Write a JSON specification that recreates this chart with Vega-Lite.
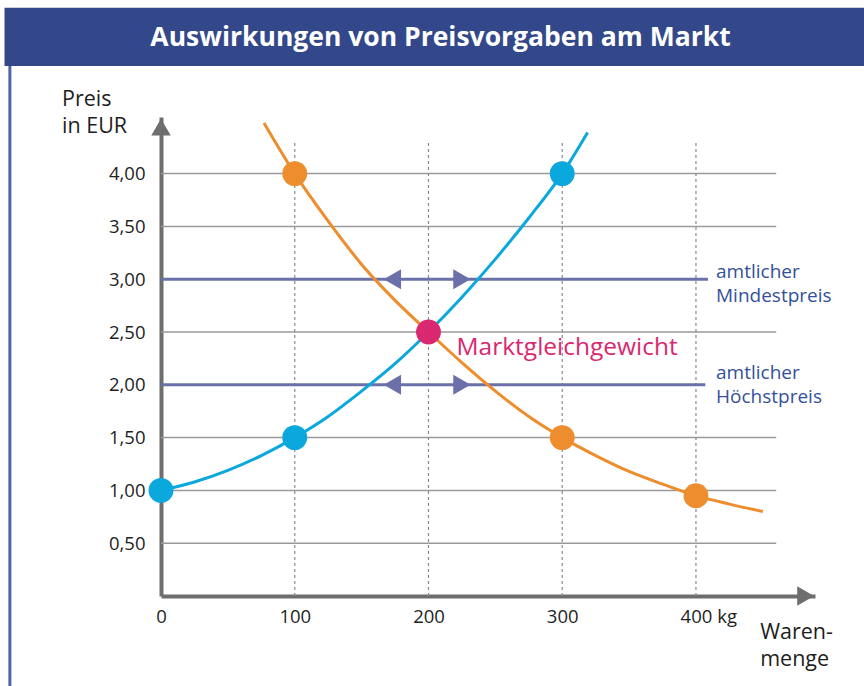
{
  "$schema": "https://vega.github.io/schema/vega-lite/v6.json",
  "autosize": {"type": "none"},
  "width": 654,
  "height": 479,
  "padding": {"left": 161, "top": 117, "right": 49, "bottom": 90},
  "background": "white",
  "config": {
    "view": {"stroke": null},
    "font": "Open Sans",
    "text": {"font": "Open Sans", "lineBreak": "\n"}
  },
  "data": {"values": [{"anker": 1}]},
  "datasets": {
    "supply": [
      {"q": 0, "p": 1.00}, {"q": 25, "p": 1.08}, {"q": 50, "p": 1.19}, {"q": 75, "p": 1.33},
      {"q": 100, "p": 1.50}, {"q": 125, "p": 1.70}, {"q": 150, "p": 1.94}, {"q": 175, "p": 2.20},
      {"q": 200, "p": 2.50}, {"q": 225, "p": 2.83}, {"q": 250, "p": 3.19}, {"q": 275, "p": 3.58},
      {"q": 300, "p": 4.00}, {"q": 319, "p": 4.39}
    ],
    "demand": [
      {"q": 77, "p": 4.48}, {"q": 100, "p": 4.00}, {"q": 125, "p": 3.55}, {"q": 150, "p": 3.14},
      {"q": 175, "p": 2.80}, {"q": 200, "p": 2.50}, {"q": 225, "p": 2.21}, {"q": 250, "p": 1.94},
      {"q": 275, "p": 1.70}, {"q": 300, "p": 1.50}, {"q": 325, "p": 1.33}, {"q": 350, "p": 1.18},
      {"q": 375, "p": 1.06}, {"q": 400, "p": 0.95}, {"q": 425, "p": 0.87}, {"q": 450, "p": 0.80}
    ],
    "points": [
      {"q": 100, "p": 4.00, "kurve": "Nachfrage"},
      {"q": 300, "p": 1.50, "kurve": "Nachfrage"},
      {"q": 400, "p": 0.95, "kurve": "Nachfrage"},
      {"q": 0, "p": 1.00, "kurve": "Angebot"},
      {"q": 100, "p": 1.50, "kurve": "Angebot"},
      {"q": 300, "p": 4.00, "kurve": "Angebot"},
      {"q": 200, "p": 2.50, "kurve": "Gleichgewicht"}
    ],
    "hgrid": [
      {"p": 0.5}, {"p": 1.0}, {"p": 1.5}, {"p": 2.5}, {"p": 3.5}, {"p": 4.0}
    ],
    "vgrid": [
      {"q": 100}, {"q": 200}, {"q": 300}, {"q": 400}
    ],
    "limits": [
      {"p": 3.0, "q_end": 409, "name": "Mindestpreis"},
      {"p": 2.0, "q_end": 407, "name": "Höchstpreis"}
    ],
    "arrows": [
      {"q": 173, "p": 3.0, "dir": "links"},
      {"q": 225, "p": 3.0, "dir": "rechts"},
      {"q": 173, "p": 2.0, "dir": "links"},
      {"q": 225, "p": 2.0, "dir": "rechts"}
    ],
    "notes": [
      {"q": 415, "p": 3.07, "label": "amtlicher\nMindestpreis"},
      {"q": 415, "p": 2.113, "label": "amtlicher\nHöchstpreis"}
    ]
  },
  "layer": [
    {
      "mark": {"type": "rect", "color": "#32488a"},
      "encoding": {
        "x": {"datum": -117, "type": "quantitative", "scale": {"domain": [0, 489], "nice": false, "zero": false}},
        "x2": {"datum": 526},
        "y": {"datum": 5.57, "type": "quantitative", "scale": {"domain": [0, 4.536], "nice": false, "zero": false}},
        "y2": {"datum": 5.02}
      }
    },
    {
      "mark": {"type": "rule", "color": "#5063a6", "strokeWidth": 3},
      "encoding": {
        "x": {"datum": -113, "type": "quantitative"},
        "y": {"datum": 5.02, "type": "quantitative"},
        "y2": {"datum": -0.86}
      }
    },
    {
      "mark": {"type": "text", "color": "white", "fontSize": 26.5, "fontWeight": "bold", "font": "Open Sans", "align": "center", "baseline": "middle"},
      "encoding": {
        "x": {"datum": 209, "type": "quantitative"},
        "y": {"datum": 5.28, "type": "quantitative"},
        "text": {"value": "Auswirkungen von Preisvorgaben am Markt"}
      }
    },
    {
      "data": {"name": "hgrid"},
      "mark": {"type": "rule", "color": "#9a9a9a", "strokeWidth": 1.5},
      "encoding": {
        "y": {"field": "p", "type": "quantitative"},
        "x": {"datum": 0, "type": "quantitative"},
        "x2": {"datum": 460}
      }
    },
    {
      "data": {"name": "vgrid"},
      "mark": {"type": "rule", "color": "#8a8a8a", "strokeWidth": 1.2, "strokeDash": [3, 3]},
      "encoding": {
        "x": {"field": "q", "type": "quantitative"},
        "y": {"datum": 0, "type": "quantitative"},
        "y2": {"datum": 4.29}
      }
    },
    {
      "data": {"name": "limits"},
      "mark": {"type": "rule", "color": "#6b70ab", "strokeWidth": 3},
      "encoding": {
        "y": {"field": "p", "type": "quantitative"},
        "x": {"field": "q_end", "type": "quantitative"},
        "x2": {"datum": 0}
      }
    },
    {
      "data": {"name": "arrows"},
      "mark": {"type": "point", "filled": true, "opacity": 1, "color": "#6b70ab", "size": 400},
      "encoding": {
        "x": {"field": "q", "type": "quantitative"},
        "y": {"field": "p", "type": "quantitative"},
        "shape": {"field": "dir", "type": "nominal", "scale": {"domain": ["links", "rechts"], "range": ["triangle-left", "triangle-right"]}, "legend": null}
      }
    },
    {
      "data": {"name": "demand"},
      "mark": {"type": "line", "color": "#ee8d2d", "strokeWidth": 3, "interpolate": "monotone"},
      "encoding": {
        "x": {"field": "q", "type": "quantitative"},
        "y": {"field": "p", "type": "quantitative"}
      }
    },
    {
      "data": {"name": "supply"},
      "mark": {"type": "line", "color": "#0aa8dc", "strokeWidth": 3, "interpolate": "monotone"},
      "encoding": {
        "x": {"field": "q", "type": "quantitative"},
        "y": {"field": "p", "type": "quantitative"}
      }
    },
    {
      "data": {"name": "points"},
      "mark": {"type": "circle", "opacity": 1, "size": 620},
      "encoding": {
        "x": {
          "field": "q", "type": "quantitative",
          "axis": {
            "values": [0, 100, 200, 300, 400], "format": "d", "title": null,
            "ticks": false, "grid": false, "domainColor": "#6e6e6e", "domainWidth": 4,
            "labelFontSize": 18.5, "labelColor": "#1e1e1e", "labelPadding": 11, "labelFont": "Open Sans", "labelFlush": false
          }
        },
        "y": {
          "field": "p", "type": "quantitative",
          "axis": {
            "values": [0.5, 1, 1.5, 2, 2.5, 3, 3.5, 4], "labelExpr": "replace(format(datum.value, '.2f'), '.', ',')",
            "title": null, "ticks": false, "grid": false, "domainColor": "#6e6e6e", "domainWidth": 4,
            "labelFontSize": 18.5, "labelColor": "#1e1e1e", "labelPadding": 16, "labelFont": "Open Sans", "labelFlush": false
          }
        },
        "color": {
          "field": "kurve", "type": "nominal",
          "scale": {"domain": ["Nachfrage", "Angebot", "Gleichgewicht"], "range": ["#ee8d2d", "#0aa8dc", "#d9286f"]},
          "legend": null
        }
      }
    },
    {
      "mark": {"type": "point", "shape": "triangle-up", "filled": true, "opacity": 1, "color": "#6e6e6e", "size": 380},
      "encoding": {
        "x": {"datum": 0, "type": "quantitative"},
        "y": {"datum": 4.44, "type": "quantitative"}
      }
    },
    {
      "mark": {"type": "point", "shape": "triangle-right", "filled": true, "opacity": 1, "color": "#6e6e6e", "size": 380},
      "encoding": {
        "x": {"datum": 482, "type": "quantitative"},
        "y": {"datum": 0, "type": "quantitative"}
      }
    },
    {
      "mark": {"type": "text", "color": "#d9286f", "fontSize": 24.5, "align": "left", "baseline": "middle"},
      "encoding": {
        "x": {"datum": 221, "type": "quantitative"},
        "y": {"datum": 2.35, "type": "quantitative"},
        "text": {"value": "Marktgleichgewicht"}
      }
    },
    {
      "data": {"name": "notes"},
      "mark": {"type": "text", "color": "#34509a", "fontSize": 19, "align": "left", "baseline": "middle", "lineHeight": 24},
      "encoding": {
        "x": {"field": "q", "type": "quantitative"},
        "y": {"field": "p", "type": "quantitative"},
        "text": {"field": "label"}
      }
    },
    {
      "mark": {"type": "text", "color": "#1e1e1e", "fontSize": 21.5, "align": "left", "baseline": "middle", "lineHeight": 27},
      "encoding": {
        "x": {"datum": -74, "type": "quantitative"},
        "y": {"datum": 4.70, "type": "quantitative"},
        "text": {"value": ["Preis", "in EUR"]}
      }
    },
    {
      "mark": {"type": "text", "color": "#1e1e1e", "fontSize": 21.5, "align": "left", "baseline": "middle", "lineHeight": 27},
      "encoding": {
        "x": {"datum": 448, "type": "quantitative"},
        "y": {"datum": -0.35, "type": "quantitative"},
        "text": {"value": ["Waren-", "menge"]}
      }
    },
    {
      "mark": {"type": "text", "color": "#1e1e1e", "fontSize": 18.5, "align": "left", "baseline": "middle"},
      "encoding": {
        "x": {"datum": 416, "type": "quantitative"},
        "y": {"datum": -0.2, "type": "quantitative"},
        "text": {"value": "kg"}
      }
    }
  ]
}
